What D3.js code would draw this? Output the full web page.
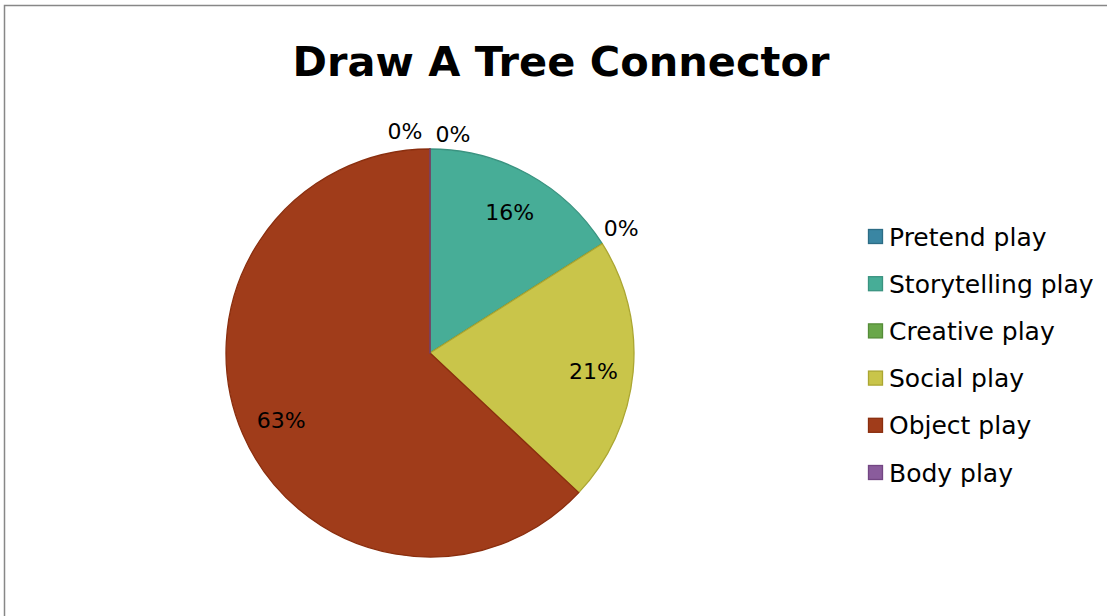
<!DOCTYPE html>
<html>
<head>
<meta charset="utf-8">
<script src="https://cdn.jsdelivr.net/npm/d3@7"></script>
<style>
  html, body { margin: 0; padding: 0; background: #fff; }
  svg { display: block; }
  text { font-family: "DejaVu Sans", "Liberation Sans", sans-serif; fill: #000; }
</style>
</head>
<body>
<svg id="chart" width="1107" height="616"></svg>
<script>
// Share of observed play types
const categories = ["Pretend play", "Storytelling play", "Creative play", "Social play", "Object play", "Body play"];
const values = [0, 16, 0, 21, 63, 0];
const fills = ["#3A86A3", "#47AD97", "#6AA74A", "#C9C54A", "#A03C1A", "#8A5C9C"];
const strokes = ["#2C6C85", "#3A9380", "#558C38", "#ABA632", "#8A2E0E", "#734683"];
const titleText = "Draw A Tree Connector";

const svg = d3.select("#chart");
const W = 1107, H = 616;

// chart frame
svg.append("path")
  .attr("d", `M4.5,${H} L4.5,5.5 L${W},5.5`)
  .attr("fill", "none")
  .attr("stroke", "#878787")
  .attr("stroke-width", 1.5);

svg.append("text")
  .attr("x", 561).attr("y", 76)
  .attr("text-anchor", "middle")
  .attr("font-size", 41.5).attr("font-weight", "bold")
  .text(titleText);

const cx = 430, cy = 353, R = 204;
const total = d3.sum(values);
const pie = d3.pie().sort(null).value(d => d)(values);
const arc = d3.arc().innerRadius(0).outerRadius(R);

const g = svg.append("g").attr("transform", `translate(${cx},${cy})`);
g.selectAll("path.slice")
  .data(pie)
  .join("path")
  .attr("class", "slice")
  .attr("d", arc)
  .attr("fill", (d, i) => fills[i])
  .attr("stroke", (d, i) => strokes[i])
  .attr("stroke-width", 1.3)
  .attr("stroke-linejoin", "round");

// data labels: inside for non-zero slices, outside end for empty ones
const inner = d3.arc().innerRadius(R * 0.8).outerRadius(R * 0.8);
const outer = d3.arc().innerRadius(R * 1.11).outerRadius(R * 1.11);
const fmt = v => Math.round(v / total * 100) + "%";
g.selectAll("text.lbl")
  .data(pie)
  .join("text")
  .attr("class", "lbl")
  .attr("text-anchor", "middle")
  .attr("dominant-baseline", "central")
  .attr("font-size", 22)
  .attr("transform", (d, i) => {
    if (d.value > 0) {
      const [x, y] = inner.centroid(d);
      return `translate(${x + 1},${y + 3})`;
    }
    let [x, y] = outer.centroid(d);
    // labels that share the 12 o'clock position are split left / right
    if (Math.abs(x) < 1) { x += i === 0 ? 23 : -25; y += i === 0 ? 8 : 5; }
    else { y -= 3; }
    return `translate(${x},${y})`;
  })
  .text(d => fmt(d.value));

// legend
const legend = svg.append("g").attr("transform", "translate(868,236)");
const items = legend.selectAll("g")
  .data(categories)
  .join("g")
  .attr("transform", (d, i) => `translate(0,${i * 47.2})`);
items.append("rect")
  .attr("x", 0.5).attr("y", -6.5)
  .attr("width", 14).attr("height", 14)
  .attr("fill", (d, i) => fills[i])
  .attr("stroke", (d, i) => strokes[i])
  .attr("stroke-width", 1.3);
items.append("text")
  .attr("x", 21).attr("y", 1)
  .attr("dominant-baseline", "central")
  .attr("font-size", 25)
  .text(d => d);
</script>
</body>
</html>
